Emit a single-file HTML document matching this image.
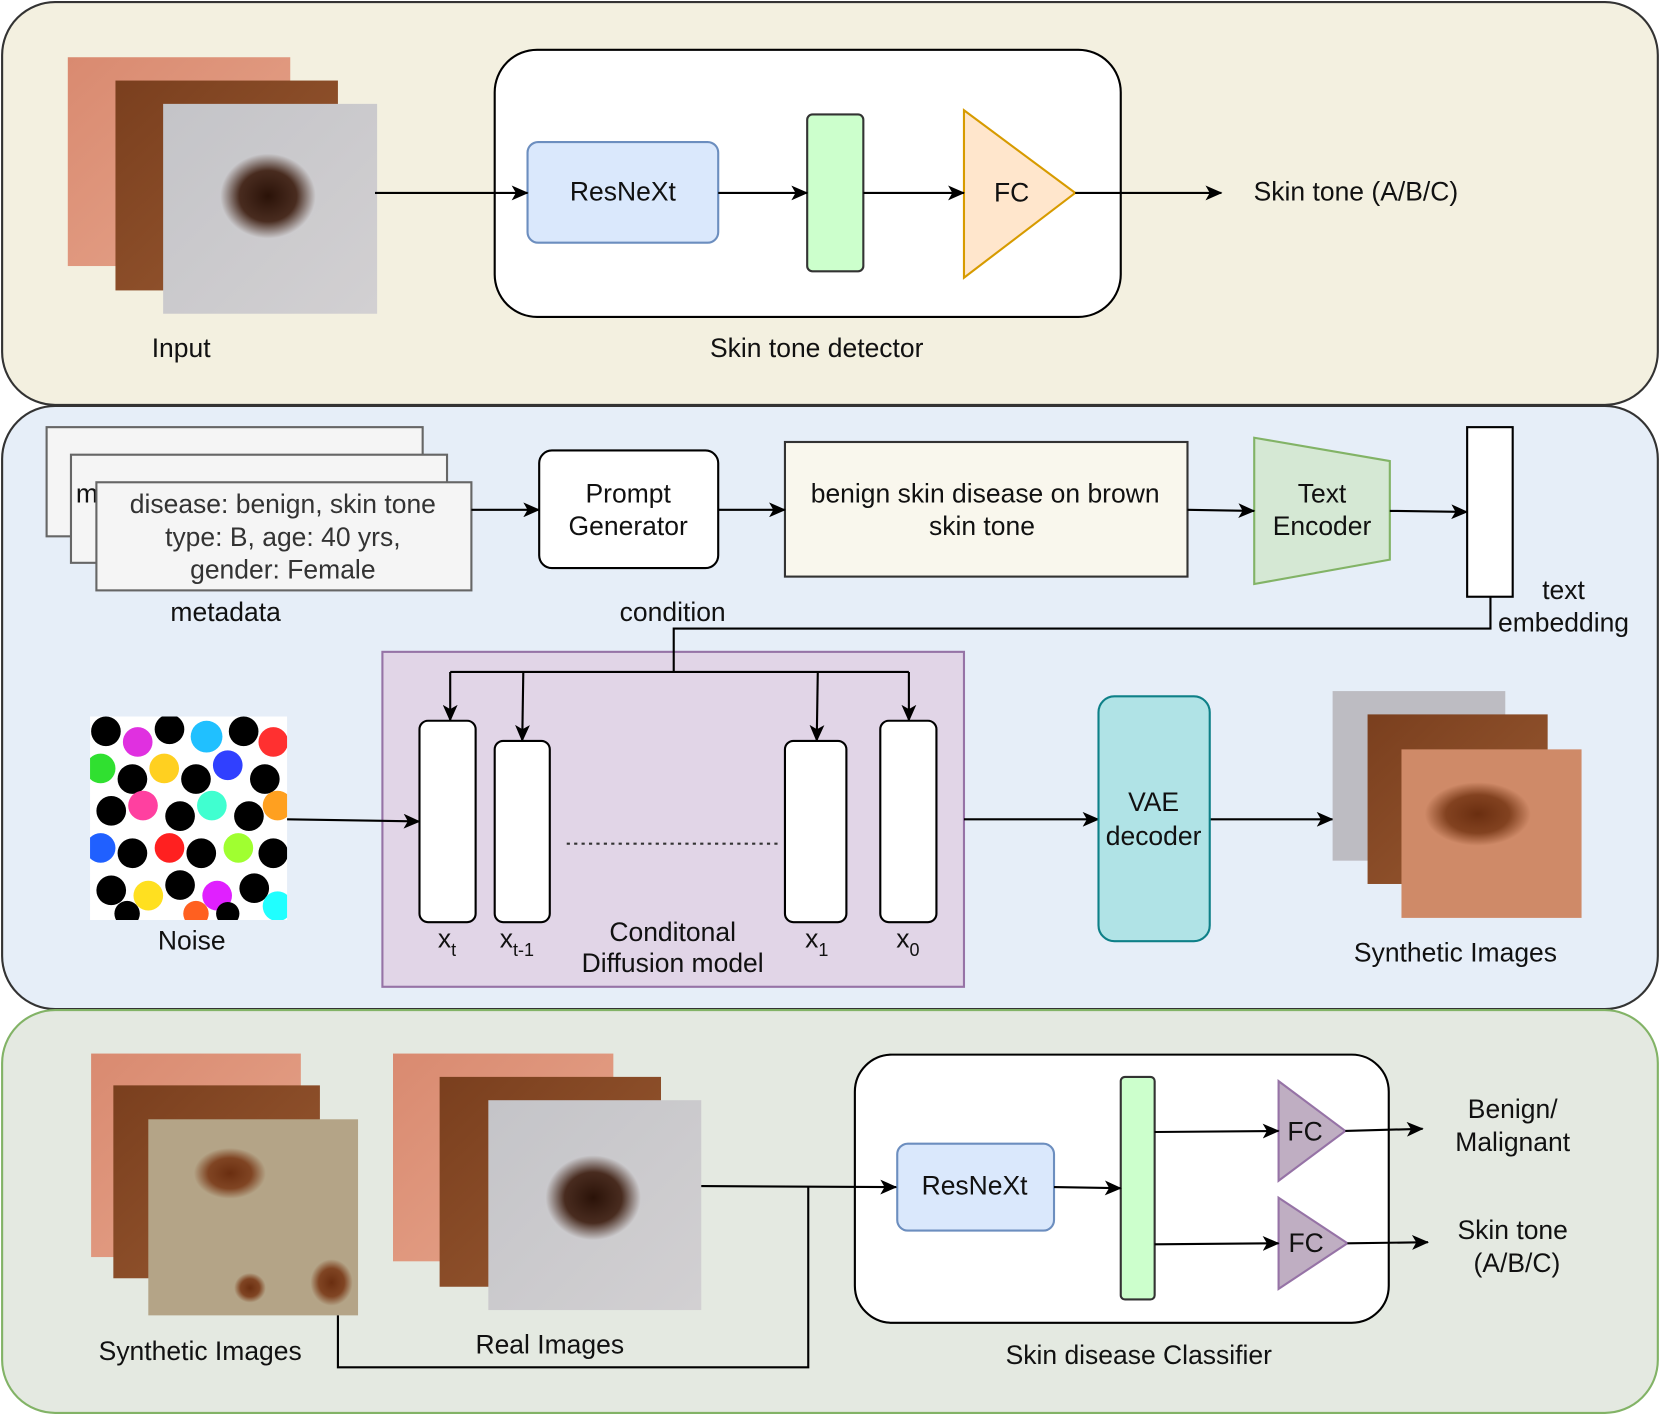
<!DOCTYPE html>
<html><head><meta charset="utf-8"><style>
html,body{margin:0;padding:0;background:#fff;}
svg{display:block;}
text{font-family:"Liberation Sans",sans-serif;font-size:25px;fill:#111;text-anchor:middle;}
</style></head><body>
<svg width="1661" height="1415" viewBox="0 0 1568 1335" preserveAspectRatio="none" xmlns="http://www.w3.org/2000/svg">
<defs>
<marker id="a" markerWidth="16" markerHeight="14" refX="15" refY="7" orient="auto" markerUnits="userSpaceOnUse"><path d="M0,0 L16,7 L0,14 L4,7 z" fill="#000"/></marker>
<radialGradient id="blob"><stop offset="0" stop-color="#2a1208"/><stop offset="0.6" stop-color="#3a1a0c" stop-opacity="0.9"/><stop offset="1" stop-color="#3a1a0c" stop-opacity="0"/></radialGradient>
<radialGradient id="blob2"><stop offset="0" stop-color="#6a2e10"/><stop offset="0.6" stop-color="#7a3a18" stop-opacity="0.9"/><stop offset="1" stop-color="#7a3a18" stop-opacity="0"/></radialGradient>
<linearGradient id="pink" x1="0" y1="0" x2="1" y2="1"><stop offset="0" stop-color="#d98a70"/><stop offset="1" stop-color="#e6a58c"/></linearGradient>
<linearGradient id="brown" x1="0" y1="0" x2="1" y2="1"><stop offset="0" stop-color="#7a3f1e"/><stop offset="1" stop-color="#9a5a32"/></linearGradient>
<linearGradient id="gray" x1="0" y1="0" x2="1" y2="1"><stop offset="0" stop-color="#c4c4c8"/><stop offset="1" stop-color="#d2d0d2"/></linearGradient>
<clipPath id="nc"><rect x="85" y="676" width="186" height="192"/></clipPath>
</defs>
<rect x="2" y="2" width="1563" height="380" rx="50" fill="#f3f0e0" stroke="#333" stroke-width="2"/>
<rect x="2" y="383" width="1563" height="569" rx="50" fill="#e6eef8" stroke="#333" stroke-width="2"/>
<rect x="2" y="953" width="1563" height="380" rx="50" fill="#e4e9e1" stroke="#82b366" stroke-width="2"/>

<rect x="64" y="54" width="210" height="197" fill="url(#pink)"/>
<rect x="109" y="76" width="210" height="198" fill="url(#brown)"/>
<rect x="154" y="98" width="202" height="198" fill="url(#gray)"/>
<ellipse cx="253" cy="185" rx="45" ry="40" fill="url(#blob)"/>
<text x="171" y="337">Input</text>
<rect x="467" y="47" width="591" height="252" rx="40" fill="#fff" stroke="#000" stroke-width="2"/>
<rect x="498" y="134" width="180" height="95" rx="10" fill="#dae8fc" stroke="#6c8ebf" stroke-width="2"/>
<text x="588" y="189">ResNeXt</text>
<rect x="762" y="108" width="53" height="148" rx="5" fill="#ccffcc" stroke="#333" stroke-width="2"/>
<polygon points="910,104 1015,182 910,262" fill="#ffe6cc" stroke="#d79b00" stroke-width="2"/>
<text x="955" y="190">FC</text>
<g stroke="#000" stroke-width="2" fill="none" marker-end="url(#a)">
<line x1="354" y1="182" x2="498" y2="182"/>
<line x1="678" y1="182" x2="762" y2="182"/>
<line x1="815" y1="182" x2="910" y2="182"/>
<line x1="1015" y1="182" x2="1153" y2="182"/>
</g>
<text x="1280" y="189">Skin tone (A/B/C)</text>
<text x="771" y="337">Skin tone detector</text>

<rect x="44" y="403" width="355" height="103" fill="#f5f5f5" stroke="#666" stroke-width="2"/>
<rect x="67" y="429" width="355" height="102" fill="#f5f5f5" stroke="#666" stroke-width="2"/>
<text x="82" y="474">m</text>
<rect x="91" y="455" width="354" height="102" fill="#f5f5f5" stroke="#666" stroke-width="2"/>
<text x="267" y="484" style="fill:#333">disease: benign, skin tone</text>
<text x="267" y="515" style="fill:#333">type: B, age: 40 yrs,</text>
<text x="267" y="546" style="fill:#333">gender: Female</text>
<text x="213" y="586">metadata</text>
<rect x="509" y="425" width="169" height="111" rx="12" fill="#fff" stroke="#000" stroke-width="2"/>
<text x="593" y="474">Prompt</text><text x="593" y="505">Generator</text>
<rect x="741" y="417" width="380" height="127" fill="#f9f7ed" stroke="#333" stroke-width="2"/>
<text x="930" y="474">benign skin disease on brown</text><text x="927" y="505">skin tone</text>
<polygon points="1184,413 1312,435 1312,528 1184,551" fill="#d5e8d4" stroke="#82b366" stroke-width="2"/>
<text x="1248" y="474">Text</text><text x="1248" y="505">Encoder</text>
<rect x="1385" y="403" width="43" height="160" fill="#fff" stroke="#000" stroke-width="2"/>
<text x="1476" y="565">text</text><text x="1476" y="596">embedding</text>
<text x="635" y="586">condition</text>
<g stroke="#000" stroke-width="2" fill="none" marker-end="url(#a)">
<line x1="445" y1="481" x2="509" y2="481"/>
<line x1="678" y1="481" x2="741" y2="481"/>
<line x1="1121" y1="481" x2="1184" y2="482"/>
<line x1="1312" y1="482" x2="1385" y2="483"/>
</g>
<rect x="361" y="615" width="549" height="316" fill="#e1d5e7" stroke="#9673a6" stroke-width="2"/>
<polyline points="1407,563 1407,593 636,593 636,634" fill="none" stroke="#000" stroke-width="2"/>
<line x1="425" y1="634" x2="858" y2="634" stroke="#000" stroke-width="2"/>
<g stroke="#000" stroke-width="2" fill="none" marker-end="url(#a)">
<polyline points="425,634 425,680"/>
<polyline points="494,634 493,699"/>
<polyline points="772,634 771,699"/>
<polyline points="858,634 858,680"/>
</g>
<g fill="#fff" stroke="#000" stroke-width="2">
<rect x="396" y="680" width="53" height="190" rx="8"/>
<rect x="467" y="699" width="52" height="171" rx="8"/>
<rect x="741" y="699" width="58" height="171" rx="8"/>
<rect x="831" y="680" width="53" height="190" rx="8"/>
</g>
<line x1="535" y1="796" x2="735" y2="796" stroke="#333" stroke-width="2" stroke-dasharray="3,4"/>
<text x="422" y="894">x<tspan font-size="17" dy="8">t</tspan></text>
<text x="488" y="894">x<tspan font-size="17" dy="8">t-1</tspan></text>
<text x="771" y="894">x<tspan font-size="17" dy="8">1</tspan></text>
<text x="857" y="894">x<tspan font-size="17" dy="8">0</tspan></text>
<text x="635" y="888">Conditonal</text><text x="635" y="917">Diffusion model</text>
<rect x="85" y="676" width="186" height="192" fill="#fff"/>
<g clip-path="url(#nc)">
<circle cx="100" cy="690" r="14" fill="#000"/><circle cx="130" cy="700" r="14" fill="#e030e0"/><circle cx="160" cy="688" r="14" fill="#000"/><circle cx="195" cy="695" r="15" fill="#20c0ff"/><circle cx="230" cy="690" r="14" fill="#000"/><circle cx="258" cy="700" r="14" fill="#ff3030"/>
<circle cx="95" cy="725" r="14" fill="#30e030"/><circle cx="125" cy="735" r="14" fill="#000"/><circle cx="155" cy="725" r="14" fill="#ffd020"/><circle cx="185" cy="735" r="14" fill="#000"/><circle cx="215" cy="722" r="14" fill="#3040ff"/><circle cx="250" cy="735" r="14" fill="#000"/>
<circle cx="105" cy="765" r="14" fill="#000"/><circle cx="135" cy="760" r="14" fill="#ff40a0"/><circle cx="170" cy="770" r="14" fill="#000"/><circle cx="200" cy="760" r="14" fill="#40ffd0"/><circle cx="235" cy="770" r="14" fill="#000"/><circle cx="262" cy="760" r="14" fill="#ffa020"/>
<circle cx="95" cy="800" r="14" fill="#2060ff"/><circle cx="125" cy="805" r="14" fill="#000"/><circle cx="160" cy="800" r="14" fill="#ff2020"/><circle cx="190" cy="805" r="14" fill="#000"/><circle cx="225" cy="800" r="14" fill="#a0ff30"/><circle cx="258" cy="805" r="14" fill="#000"/>
<circle cx="105" cy="840" r="14" fill="#000"/><circle cx="140" cy="845" r="14" fill="#ffe020"/><circle cx="170" cy="835" r="14" fill="#000"/><circle cx="205" cy="845" r="14" fill="#e020ff"/><circle cx="240" cy="838" r="14" fill="#000"/><circle cx="262" cy="855" r="14" fill="#20ffff"/>
<circle cx="120" cy="862" r="12" fill="#000"/><circle cx="185" cy="862" r="12" fill="#ff6020"/><circle cx="215" cy="862" r="11" fill="#000"/>
</g>
<text x="181" y="896">Noise</text>
<g stroke="#000" stroke-width="2" fill="none" marker-end="url(#a)">
<line x1="271" y1="773" x2="396" y2="775"/>
<line x1="910" y1="773" x2="1037" y2="773"/>
<line x1="1142" y1="773" x2="1258" y2="773"/>
</g>
<rect x="1037" y="657" width="105" height="231" rx="15" fill="#b0e3e6" stroke="#0e8088" stroke-width="2"/>
<text x="1089" y="765">VAE</text><text x="1089" y="797">decoder</text>
<rect x="1258" y="652" width="163" height="160" fill="#bdbcc2"/>
<rect x="1291" y="674" width="170" height="160" fill="url(#brown)"/>
<rect x="1323" y="707" width="170" height="159" fill="#cf8a68"/>
<ellipse cx="1395" cy="768" rx="50" ry="30" fill="url(#blob2)"/>
<text x="1374" y="907">Synthetic Images</text>

<rect x="86" y="994" width="198" height="192" fill="url(#pink)"/>
<rect x="107" y="1024" width="195" height="182" fill="url(#brown)"/>
<rect x="140" y="1056" width="198" height="185" fill="#b4a487"/>
<ellipse cx="217" cy="1107" rx="34" ry="24" fill="url(#blob2)"/>
<ellipse cx="236" cy="1215" rx="15" ry="14" fill="url(#blob2)"/>
<ellipse cx="313" cy="1210" rx="20" ry="22" fill="url(#blob2)"/>
<text x="189" y="1283">Synthetic Images</text>
<rect x="371" y="994" width="208" height="196" fill="url(#pink)"/>
<rect x="415" y="1016" width="209" height="198" fill="url(#brown)"/>
<rect x="461" y="1038" width="201" height="198" fill="url(#gray)"/>
<ellipse cx="560" cy="1130" rx="45" ry="40" fill="url(#blob)"/>
<text x="519" y="1277">Real Images</text>
<polyline points="319,1241 319,1290 763,1290 763,1120" fill="none" stroke="#000" stroke-width="2"/>
<rect x="807" y="995" width="504" height="253" rx="35" fill="#fff" stroke="#000" stroke-width="2"/>
<rect x="847" y="1079" width="148" height="82" rx="10" fill="#dae8fc" stroke="#6c8ebf" stroke-width="2"/>
<text x="920" y="1127">ResNeXt</text>
<rect x="1058" y="1016" width="32" height="210" rx="4" fill="#ccffcc" stroke="#333" stroke-width="2"/>
<polygon points="1207,1020 1270,1067 1207,1114" fill="#bfaec2" stroke="#9673a6" stroke-width="2"/>
<polygon points="1207,1130 1272,1173 1207,1216" fill="#bfaec2" stroke="#9673a6" stroke-width="2"/>
<text x="1232" y="1076">FC</text><text x="1233" y="1181">FC</text>
<g stroke="#000" stroke-width="2" fill="none" marker-end="url(#a)">
<line x1="662" y1="1119" x2="846" y2="1120"/>
<line x1="995" y1="1120" x2="1058" y2="1121"/>
<line x1="1090" y1="1068" x2="1207" y2="1067"/>
<line x1="1090" y1="1174" x2="1207" y2="1173"/>
<line x1="1270" y1="1067" x2="1343" y2="1065"/>
<line x1="1272" y1="1173" x2="1348" y2="1172"/>
</g>
<text x="1428" y="1055">Benign/</text><text x="1428" y="1086">Malignant</text>
<text x="1428" y="1169">Skin tone</text><text x="1432" y="1200">(A/B/C)</text>
<text x="1075" y="1287">Skin disease Classifier</text>
</svg>
</body></html>
